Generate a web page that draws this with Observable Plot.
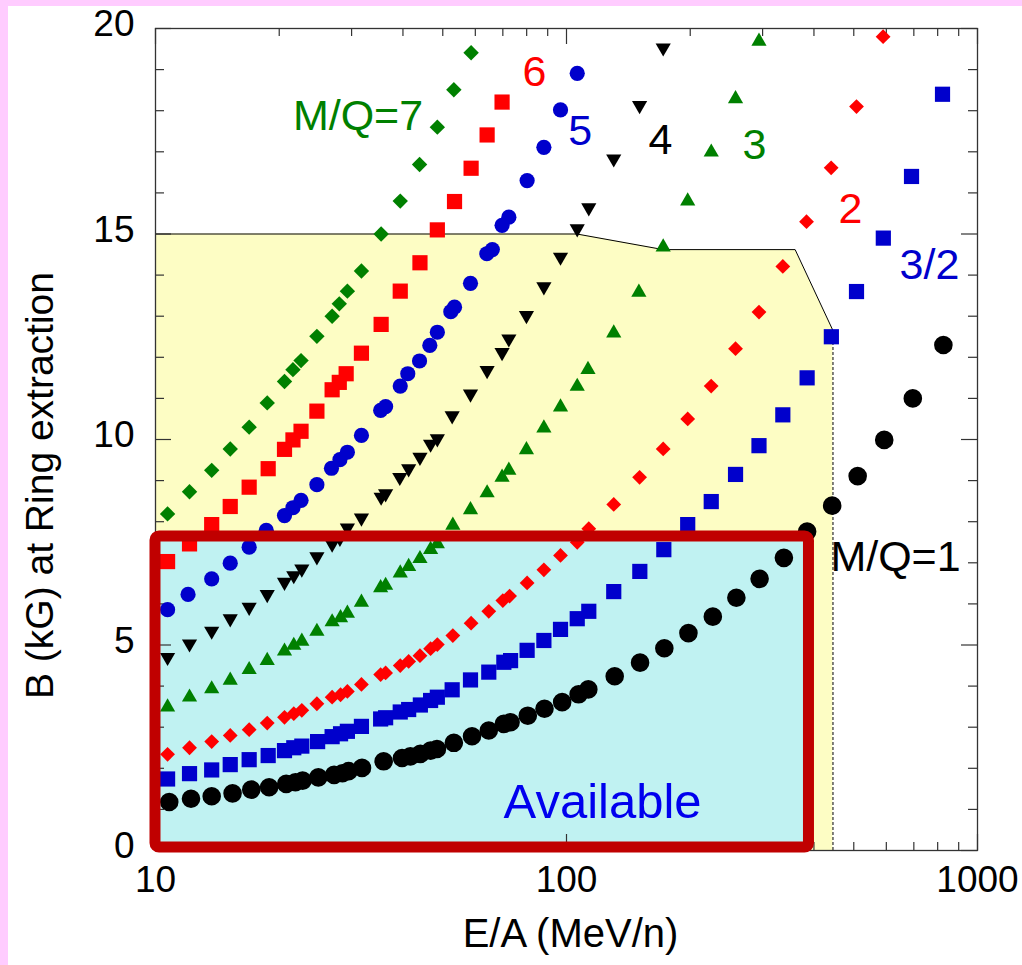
<!DOCTYPE html>
<html><head><meta charset="utf-8">
<script src="https://cdn.jsdelivr.net/npm/d3@7"></script>
<script src="https://cdn.jsdelivr.net/npm/@observablehq/plot@0.6"></script>
<style>
html,body{margin:0;padding:0;background:#fff;}
#wrap{position:relative;width:1022px;height:965px;overflow:hidden;background:#fff;}
#wrap svg{position:absolute;left:0;top:0;}
.pink-top{position:absolute;left:0;top:0;width:1022px;height:6px;background:#ffccff;}
.pink-left{position:absolute;left:0;top:0;width:8px;height:965px;background:#ffccff;}
</style></head><body><div id="wrap"></div>
<script>
// ---- data (E/A in MeV/n, B in kG) ----
const mq1E = [10.8,12.2,13.7,15.4,17.1,18.9,20.8,21.9,22.8,24.9,27.2,28.5,29.5,31.8,35.9,39.8,41.7,44.1,46.7,48.4,53.2,58.9,64.7,70.4,73.1,80.5,88.4,97.6,107,113,131,151,173,198,227,259,295,338,385,443,511,593,696,826];
const mq1B = [1.18,1.26,1.32,1.39,1.48,1.54,1.62,1.66,1.70,1.78,1.84,1.88,1.93,2.01,2.17,2.25,2.29,2.35,2.43,2.47,2.62,2.78,2.92,3.08,3.12,3.28,3.45,3.61,3.80,3.92,4.24,4.57,4.92,5.29,5.69,6.15,6.61,7.12,7.76,8.39,9.11,9.99,11.0,12.3];

const mq15E = [10.7,12.1,13.7,15.2,16.9,18.8,20.6,21.7,22.7,24.8,26.9,28.2,29.3,31.7,35.3,36.3,39.4,41.3,44.1,46.7,48.5,52.7,58.4,64.7,70.4,73.1,80.2,88.1,96.7,106.2,113.3,130.3,150.8,172.5,197.2,225,257.8,294,336,385,441,507.7,590,691,822];
const mq15B = [1.74,1.87,1.96,2.09,2.21,2.31,2.43,2.50,2.54,2.65,2.77,2.84,2.90,3.02,3.20,3.23,3.37,3.43,3.54,3.65,3.73,3.91,4.15,4.34,4.58,4.62,4.87,5.11,5.38,5.64,5.82,6.30,6.79,7.32,7.93,8.49,9.15,9.85,10.6,11.5,12.5,13.6,14.9,16.4,18.4];

const mq2E = [10.7,12.1,13.7,15.2,16.9,18.7,20.6,21.7,22.7,24.7,26.9,28.2,29.3,31.7,35.3,36.3,39.4,41.3,44.0,46.7,48.5,52.9,58.6,64.7,70.0,72.7,80.2,88.1,96.7,106.2,113.3,130.3,150.6,171.9,197.2,224.9,257.8,294,336,383.7,440.5,507.7,589.3];
const mq2B = [2.34,2.50,2.65,2.80,2.94,3.10,3.24,3.33,3.41,3.57,3.73,3.79,3.87,4.04,4.28,4.32,4.50,4.60,4.74,4.91,5.01,5.23,5.53,5.82,6.08,6.19,6.51,6.83,7.18,7.50,7.83,8.42,9.08,9.77,10.50,11.30,12.21,13.10,14.21,15.30,16.61,18.1,19.8];

const mq3E = [10.7,12.1,13.7,15.2,16.9,18.7,20.6,21.7,22.7,24.7,26.9,28.2,29.3,31.7,35.3,36.3,39.4,41.3,44.0,46.7,48.5,52.9,58.4,64.1,69.7,72.4,79.9,88.1,96.7,106.2,112.8,130.3,150,171.9,197.2,225,257.8,294];
const mq3B = [3.49,3.73,3.93,4.14,4.40,4.62,4.85,4.99,5.09,5.33,5.56,5.66,5.77,6.04,6.39,6.45,6.75,6.91,7.10,7.32,7.46,7.91,8.29,8.70,9.08,9.25,9.75,10.28,10.79,11.29,11.70,12.59,13.58,14.68,15.80,16.99,18.29,19.69];

const mq4E = [10.7,12.1,13.7,15.2,16.9,18.7,20.6,21.7,22.7,24.7,26.9,28.1,29.3,31.7,35.4,36.3,39.3,41.3,44.0,46.7,48.5,52.7,58.4,64.1,69.7,72.4,79.9,88.1,96.7,106.2,113.3,130.3,150.6,171.9];
const mq4B = [4.70,5.03,5.34,5.64,5.92,6.23,6.53,6.69,6.85,7.15,7.46,7.60,7.85,8.09,8.60,8.68,9.08,9.29,9.57,9.89,10.02,10.58,11.11,11.68,12.12,12.45,13.02,13.72,14.44,15.13,15.64,16.83,18.13,19.53];

const mq5E = [10.7,12.0,13.7,15.2,16.9,18.6,20.6,21.6,22.6,24.7,26.8,28.1,29.3,31.7,35.3,36.3,39.4,41.1,43.9,46.5,48.5,52.3,53.4,58.4,64.0,66.0,69.7,72.4,80.2,88.1,96.7,106.2];
const mq5B = [5.86,6.23,6.61,6.99,7.38,7.79,8.15,8.34,8.52,8.90,9.30,9.51,9.69,10.10,10.71,10.80,11.30,11.60,11.91,12.29,12.61,13.11,13.22,13.80,14.52,14.62,15.21,15.41,16.30,17.11,18.02,18.91];

const mq6E = [10.7,12.1,13.7,15.2,16.9,18.8,20.6,21.6,22.6,24.7,26.9,28.0,29.1,31.7,35.4,39.4,44.0,48.5,53.4,58.6,64.1,69.7];
const mq6B = [7.03,7.46,7.93,8.37,8.84,9.29,9.76,9.99,10.20,10.69,11.21,11.39,11.60,12.10,12.80,13.61,14.30,15.10,15.79,16.60,17.41,18.21];

const mq7E = [10.7,12.1,13.7,15.2,16.9,18.7,20.6,21.6,22.6,24.7,26.9,28.0,29.3,31.7,35.4,39.4,43.9,48.5,53.2,58.6];
const mq7B = [8.19,8.73,9.25,9.77,10.30,10.89,11.41,11.70,11.92,12.51,13.00,13.30,13.61,14.10,15.00,15.80,16.69,17.60,18.51,19.41];

// ring acceptance region (yellow) and available box (cyan / red)
const regionE = [10,106,172,360,445];
const regionB = [15,15,14.62,14.62,12.65];
const availE = [10,389];
const availB = [0.07,7.64];

// labels
const labelText  = ["M/Q=7","6","5","4","3","2","3/2","M/Q=1"];
const labelE     = [31.1,83.6,108,169.3,286.7,491,764,631.7];
const labelB     = [17.86,18.93,17.49,17.27,17.15,15.6,14.23,7.13];
const labelColor = ["#008000","#ff0000","#0000cc","#000000","#008000","#ff0000","#0000cc","#000000"];
const availText = "Available";
const availPos = [122.4,1.18];

const xTickLabels = [10,100,1000];
const xMinorTicks = [20,30,40,50,60,70,80,90,200,300,400,500,600,700,800,900];
const yTickLabels = [0,5,10,15,20];
const yMinorTicks = [1,2,3,4,6,7,8,9,11,12,13,14,16,17,18,19];

// ---- symbols ----
const half = size => Math.sqrt(size/Math.PI);
const symCircle = {draw(c,size){const s=half(size);c.moveTo(s,0);c.arc(0,0,s,0,2*Math.PI);c.closePath();}};
const symSquare = {draw(c,size){const s=half(size);c.rect(-s,-s,2*s,2*s);}};
const symDiamond = {draw(c,size){const s=half(size);c.moveTo(0,-s);c.lineTo(s,0);c.lineTo(0,s);c.lineTo(-s,0);c.closePath();}};
const symUp = {draw(c,size){const s=half(size);c.moveTo(0,-1.155*s);c.lineTo(s,0.577*s);c.lineTo(-s,0.577*s);c.closePath();}};
const symDown = {draw(c,size){const s=half(size);c.moveTo(0,1.155*s);c.lineTo(s,-0.577*s);c.lineTo(-s,-0.577*s);c.closePath();}};

const series = [
  {E:mq1E,B:mq1B,sym:symCircle,r:9.3,fill:"#000000"},
  {E:mq15E,B:mq15B,sym:symSquare,r:7.6,fill:"#0000cc"},
  {E:mq2E,B:mq2B,sym:symDiamond,r:7.4,fill:"#ff0000"},
  {E:mq3E,B:mq3B,sym:symUp,r:7.6,fill:"#008000"},
  {E:mq4E,B:mq4B,sym:symDown,r:7.6,fill:"#000000"},
  {E:mq5E,B:mq5B,sym:symCircle,r:7.6,fill:"#0000cc"},
  {E:mq6E,B:mq6B,sym:symSquare,r:7.6,fill:"#ff0000"},
  {E:mq7E,B:mq7B,sym:symDiamond,r:7.7,fill:"#008000"}
];

const region = regionE.map((e,i)=>({E:e,B:regionB[i]}));
const labels = labelText.map((t,i)=>({t,E:labelE[i],B:labelB[i],c:labelColor[i]}));
const FONT = "'Liberation Sans', Arial, sans-serif";
const frameH = 822, frameW = 822;

const dotMarks = series.map(s => Plot.dot(s.E.map((e,i)=>({E:e,B:s.B[i]})), {
  x:"E", y:"B", symbol: s.sym, r: s.r, fill: s.fill, stroke: "none"
}));

const tickStyle = {stroke:"#333", strokeWidth:1.2};
const chart = Plot.plot({
  width: 1022, height: 965,
  marginLeft: 155, marginRight: 45, marginTop: 28, marginBottom: 115,
  style: {fontFamily: FONT, background: "transparent"},
  x: {type: "log", domain: [10,1000], axis: null},
  y: {domain: [0,20], axis: null},
  marks: [
    Plot.areaY(region, {x:"E", y:"B", fill:"#fdfdc4"}),
    Plot.rect([0], {x1: availE[0], x2: availE[1], y1: availB[0], y2: availB[1], fill:"#c0f2f2"}),
    Plot.line(region, {x:"E", y:"B", stroke:"#000", strokeWidth:1}),
    Plot.ruleX([regionE[regionE.length-1]], {y1:0, y2: regionB[regionB.length-1], stroke:"#000", strokeWidth:1, strokeDasharray:"3,2"}),
    // ticks
    Plot.tickX(xMinorTicks, {x:d=>d, insetTop: frameH-8, ...tickStyle}),
    Plot.tickX(xMinorTicks, {x:d=>d, insetBottom: frameH-8, ...tickStyle}),
    Plot.tickX(xTickLabels, {x:d=>d, insetTop: frameH-16, ...tickStyle}),
    Plot.tickX(xTickLabels, {x:d=>d, insetBottom: frameH-16, ...tickStyle}),
    Plot.tickY(yMinorTicks, {y:d=>d, insetRight: frameW-9, ...tickStyle}),
    Plot.tickY(yMinorTicks, {y:d=>d, insetLeft: frameW-9, ...tickStyle}),
    Plot.tickY(yTickLabels, {y:d=>d, insetRight: frameW-16, ...tickStyle}),
    Plot.tickY(yTickLabels, {y:d=>d, insetLeft: frameW-16, ...tickStyle}),
    Plot.frame({stroke:"#333", strokeWidth:1.3}),
    ...dotMarks,
    Plot.rect([0], {x1: availE[0], x2: availE[1], y1: availB[0], y2: availB[1], fill:"none", stroke:"#c00000", strokeWidth:11, rx:4}),
    // tick labels
    Plot.text(yTickLabels, {y:d=>d, text:d=>String(d), frameAnchor:"left", textAnchor:"end", dx:-21, dy:-4, fontSize:37, fill:"#000"}),
    Plot.text(xTickLabels, {x:d=>d, text:d=>String(d), frameAnchor:"bottom", lineAnchor:"top", dy:15, fontSize:37, fill:"#000"}),
    // axis titles
    Plot.text(["E/A (MeV/n)"], {frameAnchor:"bottom", dx:4, dy:96, fontSize:40, letterSpacing:"5px", fill:"#000"}),
    Plot.text(["B (kG) at Ring extraction"], {frameAnchor:"left", textAnchor:"middle", dx:-115, dy:46, rotate:-90, fontSize:39, letterSpacing:"6px", fill:"#000"}),
    // series labels
    Plot.text(labels, {x:"E", y:"B", text:"t", fill:"c", fontSize:43}),
    Plot.text([availText], {x: availPos[0], y: availPos[1], text:d=>d, fill:"#0000ee", fontSize:49})
  ]
});
const wrap = document.getElementById("wrap");
wrap.appendChild(chart);
const t = document.createElement("div"); t.className="pink-top"; wrap.appendChild(t);
const l = document.createElement("div"); l.className="pink-left"; wrap.appendChild(l);
</script></body></html>
